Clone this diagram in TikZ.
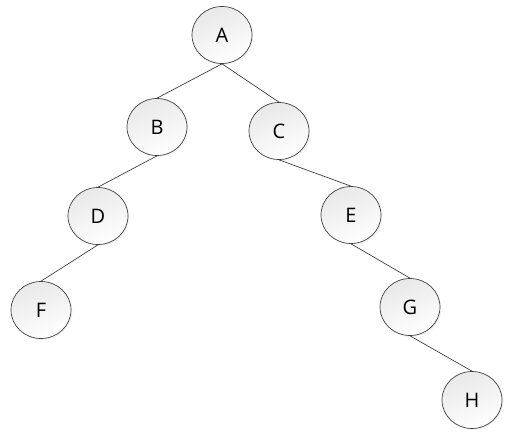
\documentclass[tikz,border=0pt]{standalone}
\usepackage{fontspec}
\setmainfont{Open Sans}
\usetikzlibrary{shapes.geometric,shadows}
\begin{document}
\begin{tikzpicture}[x=1pt,y=-1pt,
  tn/.style={ellipse,draw=black!75,line width=0.7pt,minimum width=60pt,minimum height=57pt,inner sep=0pt,
    top color=black!9,bottom color=white,shading angle=20,
    drop shadow={shadow xshift=1.5pt,shadow yshift=-1.5pt,opacity=0.1},
    font=\fontsize{20}{23}\selectfont},
  ed/.style={draw=black!75,line width=0.7pt}]
\useasboundingbox (0,0) rectangle (514,434);
\node[tn] (A) at (222,35) {A};
\node[tn] (B) at (157,127) {B};
\node[tn] (C) at (279,131) {C};
\node[tn] (D) at (98,216) {D};
\node[tn] (E) at (351,215) {E};
\node[tn] (F) at (41,310) {F};
\node[tn] (G) at (410,307) {G};
\node[tn] (H) at (472,400) {H};
\draw[ed] (A.south) -- (B.north);
\draw[ed] (A.south) -- (C.north);
\draw[ed] (B.south) -- (D.north);
\draw[ed] (D.south) -- (F.north);
\draw[ed] (C.south) -- (E.north);
\draw[ed] (E.south) -- (G.north);
\draw[ed] (G.south) -- (H.north);
\end{tikzpicture}
\end{document}
